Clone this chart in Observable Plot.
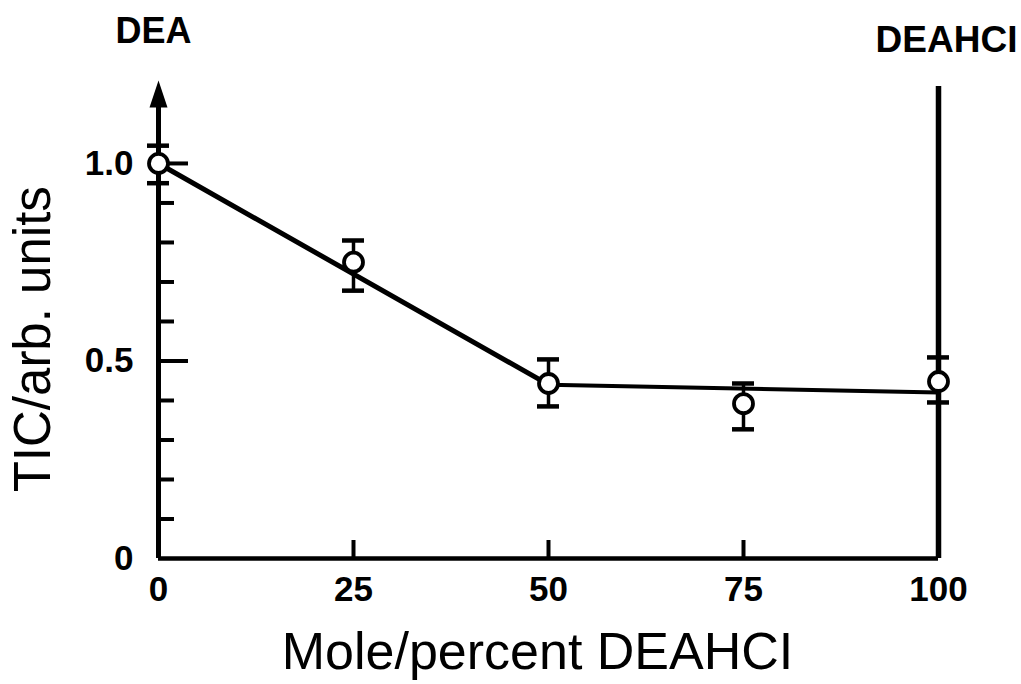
<!DOCTYPE html>
<html>
<head>
<meta charset="utf-8">
<script src="https://cdn.jsdelivr.net/npm/d3@7"></script>
<script src="https://cdn.jsdelivr.net/npm/@observablehq/plot@0.6"></script>
<style>
html, body { margin: 0; padding: 0; background: #fff; }
#chart svg { display: block; }
</style>
</head>
<body>
<div id="chart"></div>
<script>
// ---- data ----
const molePercent = [0, 25, 50, 75, 100];
const ticValue    = [1.0, 0.75, 0.443, 0.392, 0.448];
const errLow      = [0.95, 0.678, 0.385, 0.327, 0.395];
const errHigh     = [1.045, 0.805, 0.504, 0.443, 0.509];

const fitSteepX = [0, 50];
const fitSteepY = [1.0, 0.44];
const fitFlatX  = [50, 100];
const fitFlatY  = [0.44, 0.42];

const xTickValues = [0, 25, 50, 75, 100];
const xTickLabels = ["0", "25", "50", "75", "100"];
const xInnerTicks = [25, 50, 75];

const yTickValues = [0, 0.5, 1.0];
const yTickLabels = ["0", "0.5", "1.0"];
const yMinorTicks = [0.1, 0.2, 0.3, 0.4, 0.6, 0.7, 0.8, 0.9];
const yMajorTicks = [0.5, 1.0];

const leftEndLabel  = ["DEA"];
const rightEndLabel = ["DEAHCI"];
const xTitle = ["Mole/percent DEAHCI"];
const yTitle = ["TIC/arb. units"];

// ---- layout ----
const W = 1021, H = 684;
const mL = 158, mR = 83, mT = 80, mB = 126;
const xDom = [0, 100], yDom = [0, 1.21];
const kx = (W - mL - mR) / (xDom[1] - xDom[0]);   // px per x unit
const ky = (H - mT - mB) / (yDom[1] - yDom[0]);   // px per y unit

const points = molePercent.map((x, i) => ({x, y: ticValue[i], lo: errLow[i], hi: errHigh[i]}));
const steep = fitSteepX.map((x, i) => ({x, y: fitSteepY[i]}));
const flat  = fitFlatX.map((x, i) => ({x, y: fitFlatY[i]}));

// filled arrow head, tip at the symbol origin
const arrowHead = {
  draw(ctx) {
    ctx.moveTo(0, 0);
    ctx.lineTo(9, 27);
    ctx.lineTo(-9, 27);
    ctx.closePath();
  }
};

const FONT = "'Liberation Sans', Arial, Helvetica, sans-serif";
const capHalf = 11 / kx;

const chart = Plot.plot({
  width: W,
  height: H,
  marginLeft: mL,
  marginRight: mR,
  marginTop: mT,
  marginBottom: mB,
  x: {domain: xDom, axis: null},
  y: {domain: yDom, axis: null},
  style: {background: "#fff", fontFamily: FONT, color: "#000"},
  marks: [
    // axes frame
    Plot.ruleY([0], {x1: 0, x2: 100, stroke: "#000", strokeWidth: 4.5}),
    Plot.ruleX([0], {y1: 0, y2: 1.145, stroke: "#000", strokeWidth: 5}),
    Plot.ruleX([100], {y1: 0, y2: 1.195, stroke: "#000", strokeWidth: 5.5}),
    Plot.dot([0], {x: d => d, y: () => 1.21, symbol: arrowHead, fill: "#000", stroke: null}),
    // inward ticks
    Plot.ruleY(yMinorTicks, {y: d => d, x1: 0, x2: 16 / kx, stroke: "#000", strokeWidth: 4}),
    Plot.ruleY(yMajorTicks, {y: d => d, x1: 0, x2: 30 / kx, stroke: "#000", strokeWidth: 4}),
    Plot.ruleX(xInnerTicks, {x: d => d, y1: 0, y2: 18 / ky, stroke: "#000", strokeWidth: 4}),
    // fitted lines
    Plot.line(steep, {x: "x", y: "y", stroke: "#000", strokeWidth: 5}),
    Plot.line(flat, {x: "x", y: "y", stroke: "#000", strokeWidth: 4}),
    // error bars
    Plot.ruleX(points, {x: "x", y1: "lo", y2: "hi", stroke: "#000", strokeWidth: 3.5}),
    Plot.ruleY(points, {y: "lo", x1: d => d.x - capHalf, x2: d => d.x + capHalf, stroke: "#000", strokeWidth: 4.5}),
    Plot.ruleY(points, {y: "hi", x1: d => d.x - capHalf, x2: d => d.x + capHalf, stroke: "#000", strokeWidth: 4.5}),
    // data points
    Plot.dot(points, {x: "x", y: "y", r: 9.5, fill: "#fff", stroke: "#000", strokeWidth: 3.8}),
    // tick labels
    Plot.text(yTickValues, {x: () => 0, y: d => d, text: (d, i) => yTickLabels[i], textAnchor: "end", dx: -25,
      fontSize: 35, fontWeight: "bold", fontFamily: FONT, fill: "#000"}),
    Plot.text(xTickValues, {x: d => d, y: () => 0, text: (d, i) => xTickLabels[i], dy: 31,
      fontSize: 35, fontWeight: "bold", fontFamily: FONT, fill: "#000"}),
    // end labels
    Plot.text(leftEndLabel, {x: () => 0, y: () => 1.21, text: d => d, dx: -5, dy: -49,
      fontSize: 36, fontWeight: "bold", fontFamily: FONT, fill: "#000"}),
    Plot.text(rightEndLabel, {x: () => 100, y: () => 1.21, text: d => d, dx: 8, dy: -40,
      fontSize: 37, fontWeight: "bold", fontFamily: FONT, fill: "#000"}),
    // axis titles
    Plot.text(xTitle, {x: () => 50, y: () => 0, text: d => d, dx: -11, dy: 94,
      fontSize: 52, fontFamily: FONT, fill: "#000"}),
    Plot.text(yTitle, {x: () => 0, y: () => 0.555, text: d => d, dx: -125, rotate: -90,
      fontSize: 51, fontFamily: FONT, fill: "#000"})
  ]
});

document.getElementById("chart").appendChild(chart);
</script>
</body>
</html>
